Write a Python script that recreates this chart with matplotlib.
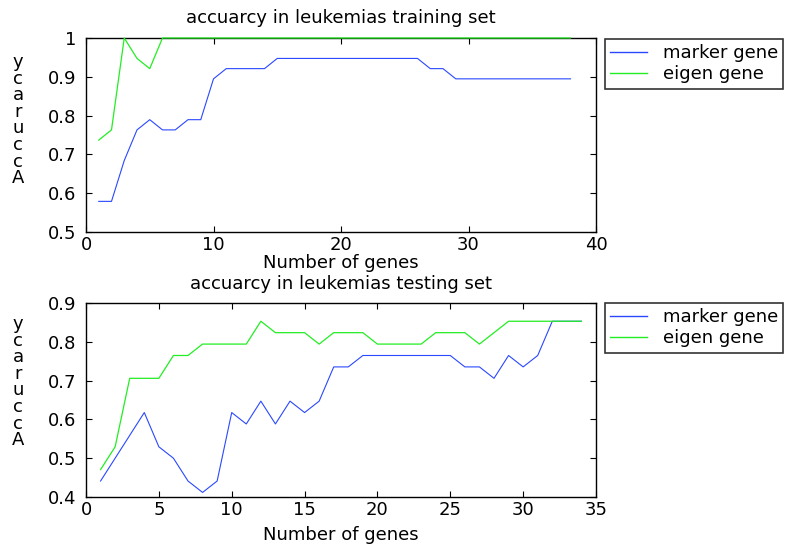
import matplotlib
matplotlib.use("Agg")
import matplotlib.pyplot as plt
import numpy as np

plt.rcParams['font.family'] = ['DejaVu Sans']

# Training set (38 samples)
train_x = list(range(1, 39))
train_marker = [22, 22, 26, 29, 30, 29, 29, 30, 30, 34, 35, 35, 35, 35, 36, 36, 36, 36, 36,
                36, 36, 36, 36, 36, 36, 36, 35, 35, 34, 34, 34, 34, 34, 34, 34, 34, 34, 34]
train_eigen = [28, 29, 38, 36, 35] + [38] * 33
train_marker = [v / 38 for v in train_marker]
train_eigen = [v / 38 for v in train_eigen]

# Testing set (34 samples)
test_x = list(range(1, 35))
test_marker = [15, 17, 19, 21, 18, 17, 15, 14, 15, 21, 20, 22, 20, 22, 21, 22, 25, 25, 26,
               26, 26, 26, 26, 26, 26, 25, 25, 24, 26, 25, 26, 29, 29, 29]
test_eigen = [16, 18, 24, 24, 24, 26, 26, 27, 27, 27, 27, 29, 28, 28, 28, 27, 28, 28, 28,
              27, 27, 27, 27, 28, 28, 28, 27, 28, 29, 29, 29, 29, 29, 29]
test_marker = [v / 34 for v in test_marker]
test_eigen = [v / 34 for v in test_eigen]

series_labels = ["marker gene", "eigen gene"]
titles = ["accuarcy in leukemias training set", "accuarcy in leukemias testing set"]
xlabel = "Number of genes"
ylabel = "Accuracy"

W, H = 791, 544
fig = plt.figure(figsize=(W / 100, H / 100), dpi=100)

def ax_rect(l, t, r, b):
    return [l / W, 1 - b / H, (r - l) / W, (b - t) / H]

ax1 = fig.add_axes(ax_rect(86, 38, 596, 232))
ax2 = fig.add_axes(ax_rect(86, 303, 596, 497))

BLUE = '#2a48ff'
GREEN = '#22ee22'
FS_TICK = 13
FS = 13

def style(ax, xlim, ylim, xticks, yticks, yfmt):
    ax.set_xlim(*xlim)
    ax.set_ylim(*ylim)
    ax.set_xticks(xticks)
    ax.set_yticks(yticks)
    ax.set_xticklabels([str(t) for t in xticks], fontsize=FS_TICK)
    ax.set_yticklabels([yfmt(t) for t in yticks], fontsize=FS_TICK)
    ax.tick_params(direction='in', top=True, right=True, length=4, width=0.8)
    ax.tick_params(axis='x', pad=3)
    ax.tick_params(axis='y', pad=7)
    for s in ax.spines.values():
        s.set_linewidth(1.0)

ax1.plot(train_x, train_marker, color=BLUE, lw=0.8, label=series_labels[0], clip_on=False, zorder=3)
ax1.plot(train_x, train_eigen, color=GREEN, lw=0.9, label=series_labels[1], clip_on=False, zorder=3)
style(ax1, (0, 40), (0.5, 1.0), [0, 10, 20, 30, 40], [0.5, 0.6, 0.7, 0.8, 0.9, 1.0],
      lambda v: '1' if v == 1.0 else f'{v:.1f}')

ax2.plot(test_x, test_marker, color=BLUE, lw=0.8, label=series_labels[0], clip_on=False, zorder=3)
ax2.plot(test_x, test_eigen, color=GREEN, lw=0.9, label=series_labels[1], clip_on=False, zorder=3)
style(ax2, (0, 35), (0.4, 0.9), [0, 5, 10, 15, 20, 25, 30, 35], [0.4, 0.5, 0.6, 0.7, 0.8, 0.9],
      lambda v: f'{v:.1f}')

stacked = "\n".join(reversed(ylabel))
for ax, title, ytop, ltop, tpad, lpad in [(ax1, titles[0], 53, 39, 11, 0),
                                          (ax2, titles[1], 315, 303, 10, 5)]:
    ax.set_title(title, fontsize=FS, pad=tpad)
    ax.set_xlabel(xlabel, fontsize=FS, labelpad=lpad)
    fig.text(18 / W, 1 - ytop / H, stacked, fontsize=FS_TICK, ha='center', va='top',
             linespacing=0.9)
    leg = ax.legend(loc='upper left', bbox_to_anchor=(605 / W, 1 - ltop / H),
                    bbox_transform=fig.transFigure, fontsize=FS, frameon=True, fancybox=False,
                    borderpad=0.3, handlelength=2.0, handletextpad=0.9, labelspacing=0.15,
                    borderaxespad=0)
    leg.get_frame().set_edgecolor('black')
    leg.get_frame().set_linewidth(1.2)
    for line in leg.get_lines():
        line.set_linewidth(1.0)

fig.savefig("out.png", dpi=100)
